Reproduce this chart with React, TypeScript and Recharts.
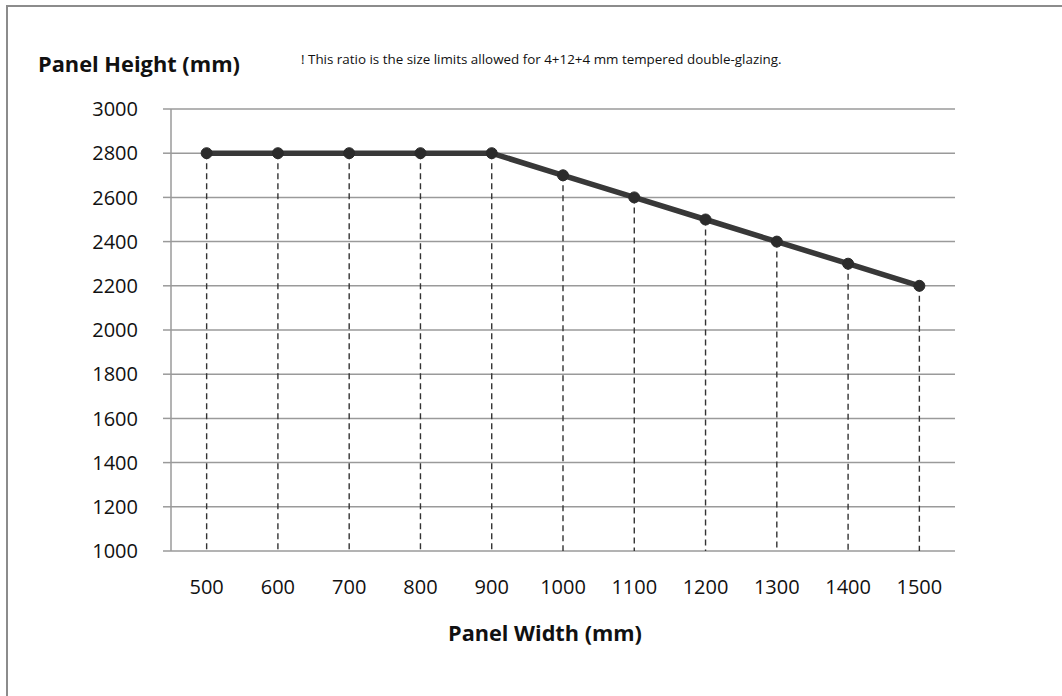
import React from 'react';
import { LineChart, Line, XAxis, YAxis, CartesianGrid, ReferenceLine } from 'recharts';

const widths = [500, 600, 700, 800, 900, 1000, 1100, 1200, 1300, 1400, 1500];
const heights = [2800, 2800, 2800, 2800, 2800, 2700, 2600, 2500, 2400, 2300, 2200];
const yTicks = [1000, 1200, 1400, 1600, 1800, 2000, 2200, 2400, 2600, 2800, 3000];
const xTicks = widths;

const yTitle = 'Panel Height (mm)';
const xTitle = 'Panel Width (mm)';
const note = '! This ratio is the size limits allowed for 4+12+4 mm tempered double-glazing.';

const data = widths.map((w, i) => ({ w, h: heights[i] }));

const FONT = '"Open Sans", "Noto Sans", sans-serif';

export default function App() {
  return (
    <div style={{ position: 'absolute', left: 0, top: 0, width: 1062, height: 696, overflow: 'hidden', background: '#fff' }}>
      <div style={{ position: 'absolute', left: 6, top: 5, width: 1200, height: 800, borderLeft: '2px solid #8c8c8c', borderTop: '2px solid #8c8c8c' }} />
      <div style={{ position: 'absolute', left: 0, top: 0 }}>
        <LineChart width={1062} height={696} data={data} margin={{ top: 109, right: 107, bottom: 0, left: 0 }}>
          <CartesianGrid vertical={false} stroke="#9a9a9a" strokeWidth={1.5} />
          <XAxis
            dataKey="w"
            type="number"
            domain={[450, 1550]}
            ticks={xTicks}
            axisLine={false}
            tickLine={false}
            tickSize={0}
            tickMargin={29}
            height={145}
            tick={{ fill: '#111', fontSize: 20, fontFamily: FONT }}
            label={{
              content: () => (
                <text x={545} y={641} textAnchor="middle" fontFamily={FONT} fontWeight="bold" fontSize={21.7} fill="#111">
                  {xTitle}
                </text>
              ),
            }}
          />
          <YAxis
            dataKey="h"
            type="number"
            domain={[1000, 3000]}
            ticks={yTicks}
            width={171}
            axisLine={{ stroke: '#9a9a9a', strokeWidth: 1.5 }}
            tickLine={{ stroke: '#9a9a9a', strokeWidth: 1.5 }}
            tickSize={8}
            tickMargin={25}
            tick={{ fill: '#111', fontSize: 20, fontFamily: FONT }}
            label={{
              content: () => (
                <g>
                  <text x={38} y={72} fontFamily={FONT} fontWeight="bold" fontSize={21.8} fill="#111">
                    {yTitle}
                  </text>
                  <text x={301} y={64} fontFamily={FONT} fontSize={13.4} fill="#111">
                    {note}
                  </text>
                </g>
              ),
            }}
          />
          {data.map((d) => (
            <ReferenceLine
              key={d.w}
              segment={[{ x: d.w, y: d.h }, { x: d.w, y: 1000 }]}
              stroke="#333"
              strokeWidth={1.4}
              strokeDasharray="6 4"
            />
          ))}
          <Line
            dataKey="h"
            stroke="#383838"
            strokeWidth={5.5}
            dot={{ r: 5.5, fill: '#2b2b2b', stroke: '#2b2b2b', strokeWidth: 1 }}
            activeDot={false}
            isAnimationActive={false}
          />
        </LineChart>
      </div>
    </div>
  );
}
